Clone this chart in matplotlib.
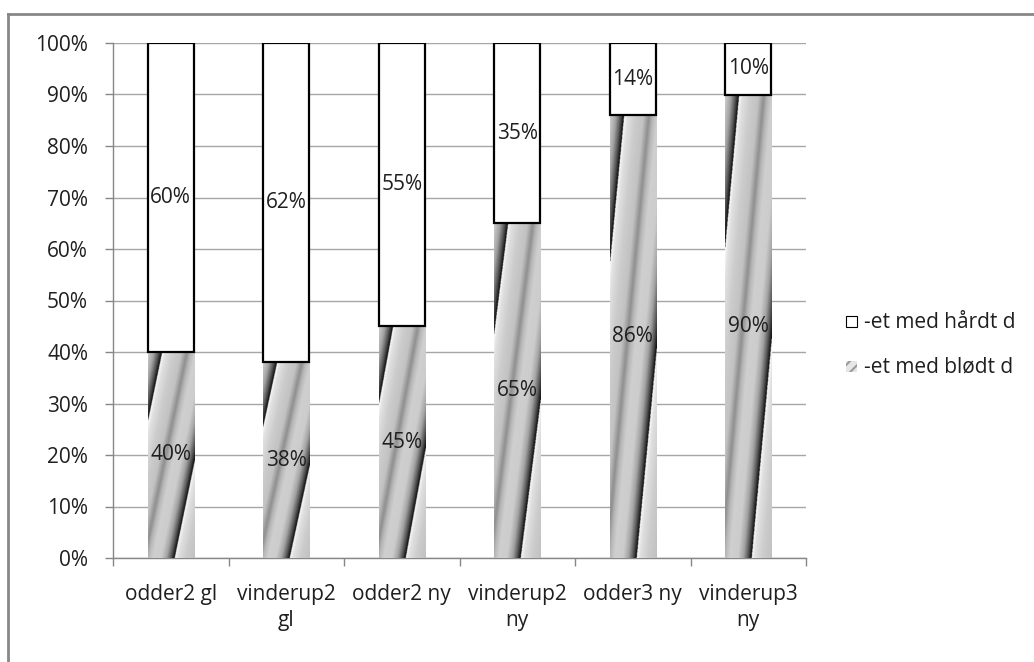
import numpy as np
import matplotlib.pyplot as plt
from matplotlib.patches import Rectangle
from matplotlib.lines import Line2D

plt.rcParams['font.family'] = ['Open Sans', 'DejaVu Sans']
plt.rcParams['hatch.linewidth'] = 1.5

# --- dati ---
categorie = ["odder2 gl", "vinderup2\ngl", "odder2 ny", "vinderup2\nny", "odder3 ny", "vinderup3\nny"]
bloedt = [40, 38, 45, 65, 86, 90]     # -et med blødt d
haardt = [60, 62, 55, 35, 14, 10]     # -et med hårdt d
serie_nomi = ["-et med hårdt d", "-et med blødt d"]

W, H = 1034, 662
fs = 15
fig = plt.figure(figsize=(W / 100, H / 100), dpi=100)

# cornice del grafico
fig.add_artist(Line2D([8 / W, 1], [1 - 14 / H, 1 - 14 / H], color='#878787', lw=2))
fig.add_artist(Line2D([8 / W, 8 / W], [0, 1 - 14 / H], color='#878787', lw=2))

ax = fig.add_axes([113 / W, 104 / H, (806 - 113) / W, 515 / H])

x = np.arange(len(categorie))
larg = 0.4

# riempimento sfumato a strisce oblique (scalato su ogni barra)
nu, nv = 120, 400
u, v = np.meshgrid(np.linspace(0, 1, nu), np.linspace(0, 1, nv))
s = u - 0.91 * v
t = ((s - 0.57) / 1.18) % 1.0
t_nodi = [0, 0.06, 0.2, 0.35, 0.45, 0.52, 0.6, 0.75, 0.85, 0.93, 0.99, 1.0]
g_nodi = [0.98, 0.88, 0.80, 0.76, 0.56, 0.72, 0.81, 0.80, 0.64, 0.35, 0.08, 0.05]
grigio = np.interp(t, t_nodi, g_nodi)

barre = ax.bar(x, bloedt, width=larg, color='none', edgecolor='none', zorder=3)
for r in barre:
    x0, y0 = r.get_x(), r.get_y()
    ax.imshow(grigio, cmap='gray', vmin=0, vmax=1, origin='lower', aspect='auto',
              extent=[x0, x0 + r.get_width(), y0, y0 + r.get_height()],
              interpolation='bilinear', zorder=3)

ax.bar(x, haardt, bottom=bloedt, width=larg, color='white', edgecolor='black',
       linewidth=1.6, zorder=4)

# etichette dei valori
for i in range(len(x)):
    ax.text(x[i], bloedt[i] / 2, f"{bloedt[i]}%", ha='center', va='center',
            fontsize=fs, color='#1f1f1f', zorder=5)
    ax.text(x[i], bloedt[i] + haardt[i] / 2, f"{haardt[i]}%", ha='center', va='center',
            fontsize=fs, color='#1f1f1f', zorder=5)

ax.set_xlim(-0.5, len(x) - 0.5)
ax.set_ylim(0, 100)
ax.set_yticks(np.arange(0, 101, 10))
ax.set_yticklabels([f"{p}%" for p in range(0, 101, 10)])
ax.yaxis.grid(True, color='#a6a6a6', lw=1)
ax.set_axisbelow(True)

ax.set_xticks(x)
ax.set_xticklabels(categorie, linespacing=1.3)
ax.set_xticks(np.arange(-0.5, len(x), 1), minor=True)
ax.tick_params(axis='x', which='major', length=0, pad=19, labelsize=fs, colors='#1f1f1f')
ax.tick_params(axis='x', which='minor', length=6, width=1, color='#878787')
ax.tick_params(axis='y', length=6, width=1, color='#878787', pad=12, labelsize=fs,
               labelcolor='#1f1f1f')

for lato in ['top', 'right']:
    ax.spines[lato].set_visible(False)
for lato in ['left', 'bottom']:
    ax.spines[lato].set_color('#878787')
    ax.spines[lato].set_linewidth(1)

# legenda
fig.add_artist(Rectangle((846 / W, 1 - 327 / H), 11 / W, 11 / H, facecolor='white',
                         edgecolor='black', lw=0.8))
fig.add_artist(Rectangle((846 / W, 1 - 372 / H), 11 / W, 11 / H, facecolor='#e6e6e6',
                         edgecolor='#9a9a9a', lw=0, hatch='///'))
fig.text(864 / W, 1 - 322 / H, serie_nomi[0], fontsize=fs, va='center', color='#1f1f1f')
fig.text(864 / W, 1 - 367 / H, serie_nomi[1], fontsize=fs, va='center', color='#1f1f1f')

fig.savefig("out.png", dpi=100)
